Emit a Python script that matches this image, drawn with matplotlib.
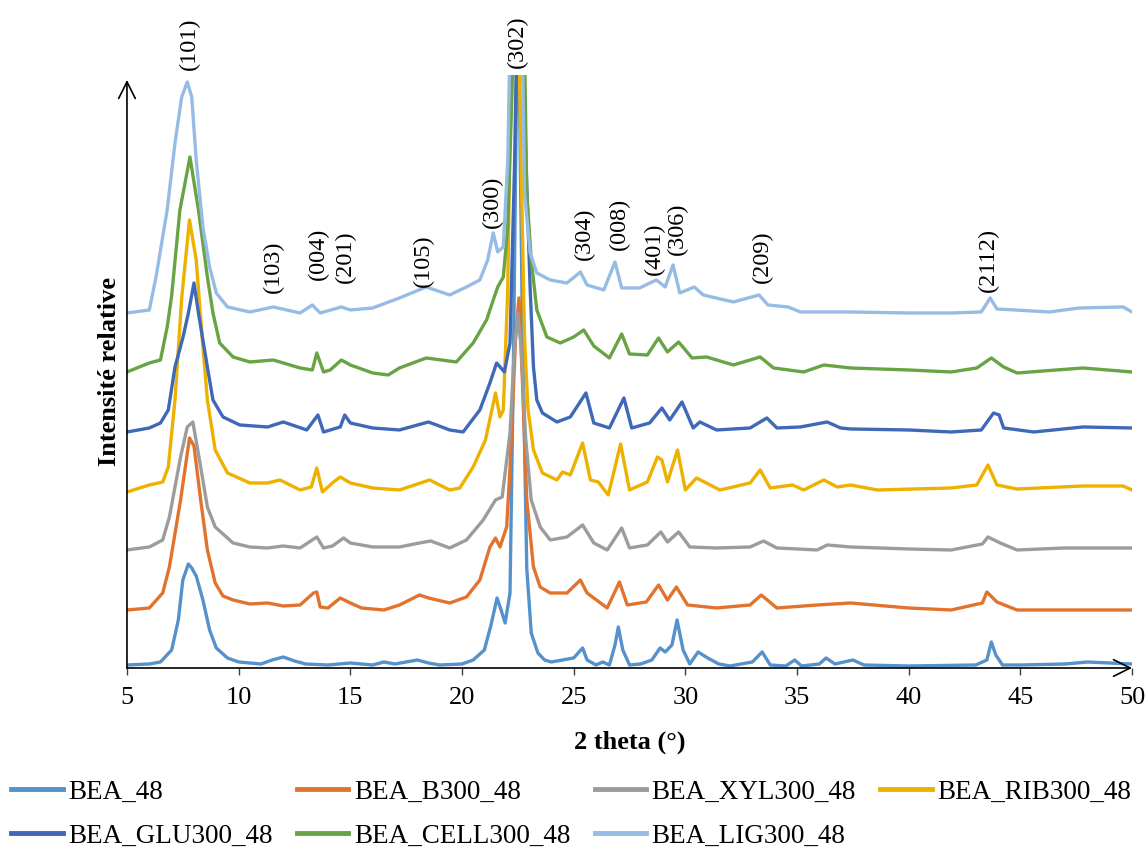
import matplotlib
matplotlib.use("Agg")
import matplotlib.pyplot as plt
from matplotlib.lines import Line2D

plt.rcParams['font.family'] = ['Liberation Serif', 'DejaVu Serif']

# ---- data: stacked XRD patterns (2theta, relative intensity incl. stacking) ----
BEA_48 = [(5.0, 3), (6.0, 4), (6.5, 6), (7.0, 18), (7.3, 48), (7.5, 88), (7.75, 104), (7.9, 100),
          (8.1, 92), (8.4, 68), (8.7, 38), (9.0, 20), (9.5, 10), (10.0, 6), (11.0, 4), (11.5, 8),
          (12.0, 11), (12.5, 7), (13.0, 4), (14.0, 3), (15.0, 5), (16.0, 3), (16.5, 6), (17.0, 4),
          (18.0, 8), (18.5, 5), (19.0, 3), (20.0, 4), (20.5, 8), (21.0, 18), (21.3, 43), (21.57, 70),
          (21.75, 58), (21.93, 45), (22.15, 75), (22.3, 300), (22.5, 700), (22.7, 350), (22.9, 100),
          (23.1, 35), (23.4, 15), (23.7, 8), (24.0, 6), (24.5, 8), (25.0, 10), (25.4, 20), (25.6, 8),
          (26.0, 3), (26.3, 6), (26.6, 3), (26.85, 23), (27.0, 41), (27.2, 18), (27.5, 3), (28.0, 4),
          (28.5, 8), (28.87, 20), (29.1, 16), (29.4, 23), (29.63, 48), (29.9, 18), (30.2, 4),
          (30.57, 16), (31.0, 10), (31.5, 4), (32.0, 2), (33.0, 6), (33.44, 16), (33.8, 3), (34.5, 2),
          (34.9, 8), (35.2, 2), (36.0, 4), (36.3, 10), (36.7, 4), (37.5, 8), (38.0, 3), (40.0, 2),
          (43.0, 3), (43.5, 8), (43.7, 26), (43.9, 13), (44.2, 3), (45.0, 3), (47.0, 4), (48.0, 6),
          (50.0, 4)]
BEA_B300_48 = [(5.0, 58), (6.0, 60), (6.6, 75), (6.9, 101), (7.4, 168), (7.8, 230), (8.0, 222),
               (8.3, 168), (8.6, 118), (8.95, 85), (9.3, 72), (9.75, 68), (10.5, 64), (11.3, 65),
               (12.0, 62), (12.75, 63), (13.35, 75), (13.5, 76), (13.65, 61), (14.0, 60), (14.55, 70),
               (15.0, 65), (15.5, 60), (16.5, 58), (17.2, 63), (18.1, 73), (18.5, 70), (19.45, 65),
               (20.2, 71), (20.8, 88), (21.25, 121), (21.5, 130), (21.7, 121), (22.0, 141),
               (22.15, 200), (22.4, 330), (22.55, 370), (22.7, 290), (22.9, 168), (23.2, 101),
               (23.5, 81), (23.95, 75), (24.7, 75), (25.3, 88), (25.6, 75), (26.5, 60), (27.05, 86),
               (27.4, 63), (28.25, 66), (28.8, 83), (29.2, 68), (29.6, 81), (30.1, 63), (31.4, 60),
               (32.9, 63), (33.4, 73), (34.1, 60), (35.9, 63), (37.4, 65), (40.0, 60), (41.9, 58),
               (43.3, 65), (43.5, 76), (43.95, 66), (44.85, 58), (50.0, 58)]
BEA_XYL300_48 = [(5.0, 118), (6.0, 121), (6.6, 128), (6.9, 151), (7.4, 211), (7.7, 241), (7.95, 246),
                 (8.3, 201), (8.6, 161), (8.95, 141), (9.75, 125), (10.5, 121), (11.3, 120),
                 (12.0, 122), (12.75, 120), (13.5, 131), (13.8, 120), (14.2, 122), (14.7, 130),
                 (15.0, 125), (16.0, 121), (17.2, 121), (18.1, 125), (18.6, 127), (19.45, 120),
                 (20.2, 128), (20.95, 148), (21.5, 168), (21.8, 171), (22.15, 235), (22.35, 320),
                 (22.5, 355), (22.65, 320), (22.85, 230), (23.1, 168), (23.5, 141), (23.95, 128),
                 (24.7, 131), (25.4, 143), (25.9, 125), (26.5, 118), (27.15, 140), (27.5, 120),
                 (28.3, 123), (28.9, 136), (29.2, 126), (29.7, 136), (30.2, 121), (31.4, 120),
                 (32.9, 121), (33.5, 127), (34.1, 120), (35.9, 118), (36.35, 123), (37.4, 121),
                 (40.0, 119), (41.9, 118), (43.3, 124), (43.55, 131), (44.1, 125), (44.85, 118),
                 (47.0, 120), (50.0, 120)]
BEA_RIB300_48 = [(5.0, 176), (6.0, 183), (6.6, 186), (6.85, 201), (7.15, 268), (7.45, 370),
                 (7.8, 448), (8.1, 408), (8.35, 335), (8.6, 268), (8.95, 218), (9.5, 195),
                 (10.5, 185), (11.3, 185), (11.85, 188), (12.75, 178), (13.25, 181), (13.5, 200),
                 (13.75, 176), (14.25, 186), (14.55, 191), (15.0, 185), (16.0, 180), (17.2, 178),
                 (18.55, 188), (19.45, 178), (19.9, 180), (20.5, 201), (21.05, 228), (21.5, 275),
                 (21.7, 251), (21.85, 258), (22.05, 380), (22.25, 700), (22.45, 750), (22.65, 500),
                 (22.8, 330), (22.95, 260), (23.2, 218), (23.6, 195), (24.25, 188), (24.5, 196),
                 (24.85, 193), (25.4, 225), (25.75, 188), (26.1, 186), (26.55, 173), (27.1, 224),
                 (27.5, 178), (28.3, 186), (28.75, 211), (28.95, 208), (29.2, 186), (29.65, 218),
                 (30.0, 178), (30.5, 190), (31.55, 178), (32.9, 185), (33.35, 198), (33.8, 180),
                 (34.8, 183), (35.3, 178), (36.2, 188), (36.8, 181), (37.4, 183), (38.6, 178),
                 (41.9, 180), (43.05, 183), (43.55, 203), (43.95, 183), (44.85, 179), (47.8, 182),
                 (49.6, 182), (50.0, 178)]
BEA_GLU300_48 = [(5.0, 236), (6.0, 240), (6.5, 245), (6.85, 258), (7.15, 301), (7.5, 330),
                 (7.75, 355), (8.0, 385), (8.2, 355), (8.6, 301), (8.85, 268), (9.3, 251),
                 (10.05, 243), (11.3, 241), (12.0, 246), (13.05, 238), (13.55, 253), (13.8, 236),
                 (14.55, 241), (14.75, 253), (15.0, 245), (16.0, 240), (17.2, 238), (18.5, 246),
                 (19.45, 238), (20.05, 236), (20.8, 258), (21.25, 285), (21.55, 305), (21.9, 296),
                 (22.15, 325), (22.35, 500), (22.55, 750), (22.8, 550), (23.05, 380), (23.2, 301),
                 (23.35, 268), (23.6, 255), (24.25, 246), (24.85, 251), (25.55, 275), (25.9, 245),
                 (26.6, 240), (27.25, 270), (27.6, 240), (28.4, 245), (28.95, 260), (29.3, 248),
                 (29.85, 266), (30.35, 240), (30.65, 246), (31.4, 238), (32.9, 240), (33.65, 250),
                 (34.1, 240), (35.15, 241), (36.35, 246), (36.95, 240), (37.4, 239), (40.0, 238),
                 (41.9, 236), (43.25, 238), (43.8, 255), (44.05, 253), (44.25, 240), (45.6, 236),
                 (47.8, 241), (50.0, 240)]
BEA_CELL300_48 = [(5.0, 296), (6.0, 305), (6.5, 308), (6.8, 341), (7.0, 372), (7.37, 458),
                  (7.82, 511), (8.2, 458), (8.6, 391), (8.85, 355), (9.15, 325), (9.75, 311),
                  (10.5, 306), (11.55, 308), (12.75, 300), (13.3, 298), (13.5, 315), (13.8, 296),
                  (14.1, 298), (14.6, 308), (15.0, 303), (16.0, 295), (16.7, 293), (17.2, 300),
                  (18.4, 310), (19.75, 306), (20.5, 325), (21.1, 348), (21.4, 368), (21.6, 381),
                  (21.85, 391), (22.05, 441), (22.3, 620), (22.6, 800), (22.8, 620), (22.9, 475),
                  (23.1, 408), (23.35, 358), (23.8, 331), (24.4, 325), (25.0, 331), (25.45, 338),
                  (25.9, 322), (26.6, 310), (27.15, 334), (27.5, 314), (28.3, 313), (28.8, 330),
                  (29.2, 316), (29.7, 326), (30.3, 310), (30.95, 311), (32.15, 303), (33.35, 311),
                  (33.95, 300), (35.3, 296), (36.2, 303), (37.4, 300), (40.0, 298), (41.9, 296),
                  (43.05, 300), (43.7, 310), (44.25, 301), (44.85, 295), (47.8, 300), (50.0, 296)]
BEA_LIG300_48 = [(5.0, 355), (6.0, 358), (6.3, 391), (6.8, 458), (7.15, 525), (7.45, 571),
                 (7.7, 586), (7.9, 571), (8.1, 508), (8.4, 441), (8.7, 401), (9.0, 375), (9.5, 361),
                 (10.5, 356), (11.55, 361), (12.75, 355), (13.3, 363), (13.65, 355), (14.6, 361),
                 (15.0, 358), (16.0, 360), (17.2, 370), (18.4, 381), (19.45, 373), (20.2, 381),
                 (20.8, 388), (21.15, 408), (21.4, 435), (21.6, 416), (21.85, 421), (22.05, 508),
                 (22.25, 750), (22.45, 850), (22.65, 700), (22.8, 475), (23.05, 415), (23.35, 395),
                 (23.95, 388), (24.7, 385), (25.3, 396), (25.6, 383), (26.35, 378), (26.85, 406),
                 (27.15, 380), (27.95, 380), (28.7, 388), (29.1, 381), (29.45, 403), (29.75, 375),
                 (30.4, 381), (30.8, 373), (32.15, 366), (33.3, 373), (33.7, 363), (34.6, 361),
                 (35.15, 356), (37.4, 356), (40.0, 355), (41.9, 355), (43.25, 356), (43.65, 370),
                 (43.95, 359), (46.3, 356), (47.65, 360), (49.6, 361), (50.0, 356)]

names = ["BEA_48", "BEA_B300_48", "BEA_XYL300_48", "BEA_RIB300_48",
         "BEA_GLU300_48", "BEA_CELL300_48", "BEA_LIG300_48"]
series = [BEA_48, BEA_B300_48, BEA_XYL300_48, BEA_RIB300_48,
          BEA_GLU300_48, BEA_CELL300_48, BEA_LIG300_48]
colors = ["#5591CB", "#E2732C", "#9C9C9C", "#EDB100", "#3F69B8", "#68A443", "#97BCE4"]

# peak labels (2theta, height of label base)
peak_labels = ["(101)", "(103)", "(004)", "(201)", "(105)", "(300)", "(302)",
               "(304)", "(008)", "(401)", "(306)", "(209)", "(2112)"]
peak_x = [7.78, 11.54, 13.55, 14.76, 18.26, 21.35, 22.47, 25.47, 27.03, 28.6, 29.63, 33.44, 43.56]
peak_y = [598, 375, 388, 385, 381, 440, 600, 408, 418, 393, 413, 385, 376]

# ---- figure ----
fig = plt.figure(figsize=(11.48, 8.49), dpi=100)
ax = fig.add_axes([0.1106, 0.2132, 0.8755, 0.6985])

for name, s, c in zip(names, series, colors):
    x = [p[0] for p in s]
    y = [p[1] for p in s]
    ax.plot(x, y, color=c, lw=2.4, solid_joinstyle="round", label=name)

ax.set_xlim(5, 50)
ax.set_ylim(0, 593)
for sp in ax.spines.values():
    sp.set_visible(False)
ax.set_yticks([])
ax.set_xticks(range(5, 51, 5))
ax.tick_params(axis="x", direction="out", length=5, width=1, color="#404040",
               labelsize=19, pad=9)

# axes drawn as arrows
arrow = dict(arrowstyle="->,head_length=0.6,head_width=0.3", lw=1.2,
             color="black", shrinkA=0, shrinkB=0, mutation_scale=20)
ax.annotate("", xy=(1.0, 0), xytext=(0, 0), xycoords="axes fraction", arrowprops=arrow)
ax.annotate("", xy=(0, 0.9916), xytext=(0, 0), xycoords="axes fraction", arrowprops=arrow)

ax.set_xlabel("2 theta (°)", fontsize=19, fontweight="bold", labelpad=15)
ax.set_ylabel("Intensité relative", fontsize=19, fontweight="bold", labelpad=4)

for t, px, py in zip(peak_labels, peak_x, peak_y):
    ax.text(px, py, t, rotation=90, ha="center", va="bottom", fontsize=17.5, clip_on=False)

# legend, row-wise order with 4 columns
order = [0, 4, 1, 5, 2, 6, 3]
leg_handles = [Line2D([], [], color=colors[i], lw=3.5) for i in order]
fig.legend(leg_handles, [names[i] for i in order], ncol=4, loc="upper left",
           bbox_to_anchor=(0.005, 0.088), frameon=False, fontsize=19.5,
           handlelength=1.9, handletextpad=0.2, columnspacing=0.9, labelspacing=0.7,
           borderaxespad=0, borderpad=0.2)

fig.savefig("out.png", dpi=100)
